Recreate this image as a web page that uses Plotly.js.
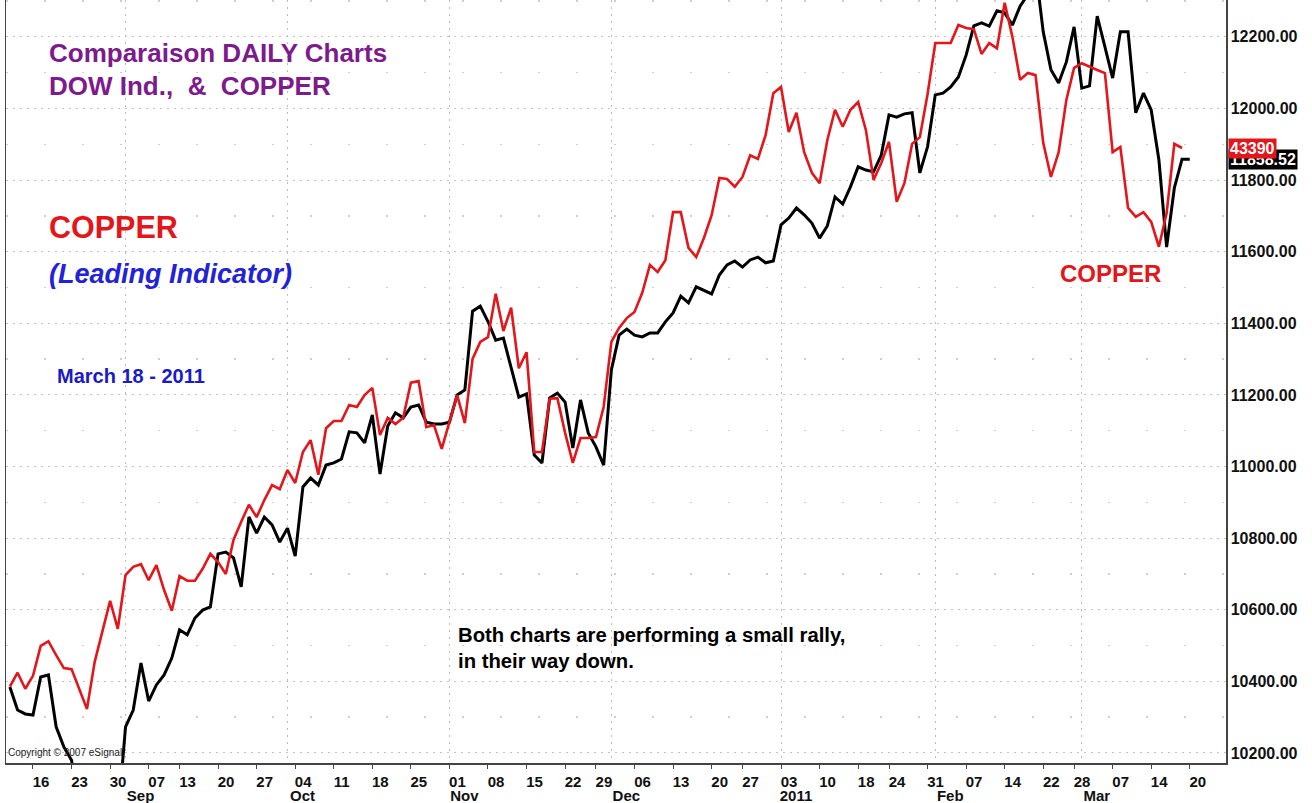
<!DOCTYPE html>
<html>
<head>
<meta charset="utf-8">
<script src="https://cdn.plot.ly/plotly-3.0.1.min.js"></script>
<style>
  html, body { margin: 0; padding: 0; background: #fff; }
  #chart { width: 1312px; height: 803px; }
</style>
</head>
<body>
<div id="chart"></div>
<script>
// trading-day index: 0 = Mon Aug 16 2010, weekends and holidays removed
var firstDay = -3;

// DOW Industrials daily close (Aug 11 2010 .. Mar 18 2011), last value repeated once
var dow = [
  10384, 10320, 10309, 10306, 10412, 10418, 10273, 10217, 10180, 10040,
  10060, 9986, 10150, 10009, 10015, 10273, 10320, 10451, 10345, 10390,
  10418, 10465, 10544, 10530, 10577, 10599, 10608, 10756, 10761, 10745,
  10664, 10859, 10814, 10859, 10837, 10789, 10828, 10750, 10943, 10968,
  10948, 11004, 11010, 11021, 11097, 11094, 11066, 11144, 10979, 11113,
  11150, 11136, 11166, 11172, 11124, 11119, 11119, 11124, 11200, 11214,
  11434, 11448, 11405, 11353, 11359, 11278, 11194, 11203, 11032, 11010,
  11192, 11205, 11180, 11052, 11186, 11094, 11055, 11004, 11270, 11367,
  11384, 11367, 11362, 11373, 11373, 11404, 11429, 11476, 11457, 11502,
  11493, 11482, 11535, 11563, 11574, 11557, 11577, 11585, 11569, 11574,
  11675, 11694, 11722, 11703, 11680, 11638, 11672, 11753, 11733, 11781,
  11837, 11828, 11823, 11870, 11982, 11976, 11985, 11988, 11820, 11893,
  12038, 12043, 12060, 12088, 12149, 12231, 12239, 12230, 12273, 12267,
  12233, 12286, 12318, 12391, 12214, 12108, 12071, 12130, 12228, 12057,
  12063, 12258, 12172, 12085, 12214, 12214, 11988, 12043, 11996, 11856,
  11613, 11778, 11858.52, 11858.52
];

// COPPER (HG, $/lb), same days
var copper = [
  3.297, 3.324, 3.293, 3.318, 3.376, 3.385, 3.358, 3.333, 3.331, 3.291,
  3.254, 3.345, 3.405, 3.463, 3.409, 3.513, 3.529, 3.534, 3.503, 3.532,
  3.484, 3.444, 3.511, 3.502, 3.502, 3.525, 3.554, 3.538, 3.515, 3.581,
  3.616, 3.649, 3.625, 3.658, 3.687, 3.679, 3.716, 3.691, 3.751, 3.774,
  3.707, 3.797, 3.811, 3.811, 3.842, 3.838, 3.861, 3.875, 3.784, 3.817,
  3.805, 3.817, 3.885, 3.888, 3.799, 3.803, 3.757, 3.809, 3.861, 3.807,
  3.931, 3.964, 3.973, 4.057, 3.985, 4.030, 3.913, 3.944, 3.751, 3.751,
  3.854, 3.855, 3.788, 3.730, 3.778, 3.778, 3.780, 3.838, 3.964, 3.991,
  4.010, 4.022, 4.059, 4.113, 4.099, 4.122, 4.215, 4.215, 4.146, 4.128,
  4.165, 4.209, 4.281, 4.279, 4.264, 4.283, 4.325, 4.318, 4.364, 4.445,
  4.457, 4.370, 4.407, 4.331, 4.291, 4.271, 4.354, 4.413, 4.380, 4.413,
  4.428, 4.374, 4.277, 4.310, 4.351, 4.235, 4.271, 4.347, 4.360, 4.443,
  4.542, 4.542, 4.542, 4.577, 4.571, 4.569, 4.521, 4.542, 4.532, 4.620,
  4.554, 4.471, 4.484, 4.480, 4.349, 4.283, 4.331, 4.432, 4.494, 4.503,
  4.496, 4.490, 4.484, 4.331, 4.341, 4.223, 4.206, 4.215, 4.196, 4.148,
  4.213, 4.347, 4.339
];

// weekly tick labels (trading-day index)
var tickIdx  = [0, 5, 10, 15, 19, 24, 29, 34, 39, 44, 49, 54, 59, 64, 69, 73,
                78, 83, 88, 92, 97, 102, 107, 111, 116, 121, 126, 131, 135, 140, 145, 150];
var tickText = ['16','23','30','07','13','20','27','04','11','18','25','01','08','15','22','29',
                '06','13','20','27','03','10','18','24','31','07','14','22','28','07','14','20'];

// first trading day of each month
var monthIdx  = [12, 33, 54, 75, 97, 117, 136];
var monthText = ['Sep', 'Oct', 'Nov', 'Dec', '2011', 'Feb', 'Mar'];

var FONT = 'Liberation Sans, Arial, sans-serif';
var xRange = [-3.5, 154.7];

function days(arr) {
  return arr.map(function (v, k) { return firstDay + k; });
}

var data = [
  {
    x: days(dow), y: dow, type: 'scatter', mode: 'lines',
    line: { color: '#000000', width: 3 },
    xaxis: 'x', yaxis: 'y', hoverinfo: 'skip'
  },
  {
    x: days(copper), y: copper, type: 'scatter', mode: 'lines',
    line: { color: '#e3161b', width: 2.6 },
    xaxis: 'x2', yaxis: 'y2', hoverinfo: 'skip'
  }
];

// plot area in pixels: x 6..1226, y 0..763
function px(x) { return (x - 6) / 1220; }
function py(y) { return 1 - y / 763; }

function note(text, x, y, size, color, extra) {
  var a = {
    text: text, xref: 'paper', yref: 'paper', x: px(x), y: py(y),
    xanchor: 'left', yanchor: 'middle', showarrow: false,
    font: { family: FONT, size: size, color: color }
  };
  for (var k in extra) a[k] = extra[k];
  return a;
}

var nb = '\u00a0';
var annotations = [
  note('<b>Comparaison DAILY Charts</b>', 47, 53, 26, '#7d1a8c'),
  note('<b>DOW Ind.,' + nb + nb + '&' + nb + nb + 'COPPER</b>', 47, 86, 26, '#7d1a8c'),
  note('<b>COPPER</b>', 47, 227, 30.5, '#e3161b'),
  note('<b><i>(Leading Indicator)</i></b>', 47, 274, 27, '#2222d8'),
  note('<b>March 18 - 2011</b>', 55, 376, 20, '#1a1ac8'),
  note('<b>COPPER</b>', 1058, 273, 24, '#e3161b'),
  note('<b>Both charts are performing a small rally,<br>in their way down.</b>', 456, 648, 20.3, '#000000', { align: 'left' }),
  note('Copyright \u00a9 2007 eSignal.', 6, 752, 10, '#222222'),
  {
    text: '<b>' + dow[dow.length - 1].toFixed(2) + '</b>',
    xref: 'paper', yref: 'y', x: 1, y: dow[dow.length - 1], xshift: 2,
    xanchor: 'left', yanchor: 'middle', showarrow: false,
    bgcolor: '#000000', borderpad: 1,
    font: { family: FONT, size: 16, color: '#ffffff' }
  },
  {
    text: '<b>' + (copper[copper.length - 1] * 10000).toFixed(0) + '</b>',
    xref: 'paper', yref: 'y2', x: 1, y: copper[copper.length - 1], xshift: 2,
    xanchor: 'left', yanchor: 'middle', showarrow: false,
    bgcolor: '#e3161b', borderpad: 1,
    font: { family: FONT, size: 16, color: '#ffffff' }
  }
];

var layout = {
  width: 1312, height: 803,
  margin: { l: 6, r: 86, t: 0, b: 40 },
  paper_bgcolor: '#ffffff', plot_bgcolor: '#ffffff',
  showlegend: false,
  xaxis: {
    range: xRange, tickmode: 'array', tickvals: tickIdx, ticktext: tickText,
    showgrid: false, zeroline: false,
    showline: true, linecolor: '#444444', linewidth: 1.5,
    ticks: 'outside', ticklen: 4, tickcolor: '#444444',
    ticklabelshift: 8,
    tickfont: { family: FONT, size: 15, color: '#111111', weight: 'bold' }
  },
  xaxis2: {
    overlaying: 'x', anchor: 'y', side: 'bottom',
    range: xRange, tickmode: 'array', tickvals: monthIdx, ticktext: monthText,
    showgrid: true, gridcolor: '#bdbdbd', griddash: '2px,5px', gridwidth: 1,
    zeroline: false, showline: false, ticks: '',
    ticklabelshift: 15, ticklabelstandoff: 22,
    tickfont: { family: FONT, size: 15, color: '#111111', weight: 'bold' }
  },
  yaxis: {
    range: [10172, 12303], side: 'right',
    tickmode: 'linear', tick0: 10200, dtick: 200, tickformat: '.2f',
    showgrid: true, gridcolor: '#c4c4c4', griddash: '2px,5px', gridwidth: 1,
    minor: { dtick: 100, tick0: 10200, showgrid: true, gridcolor: '#cfcfcf', griddash: '2px,36px', gridwidth: 1.5 },
    zeroline: false, showline: true, mirror: true, linecolor: '#444444', linewidth: 1.5,
    ticks: '',
    tickfont: { family: FONT, size: 16, color: '#111111', weight: 'bold' }
  },
  yaxis2: {
    range: [3.1494, 4.6253], overlaying: 'y', side: 'right', anchor: 'x2',
    visible: false, showgrid: false, zeroline: false
  },
  annotations: annotations
};

Plotly.newPlot('chart', data, layout, { displayModeBar: false, staticPlot: true });
</script>
</body>
</html>
